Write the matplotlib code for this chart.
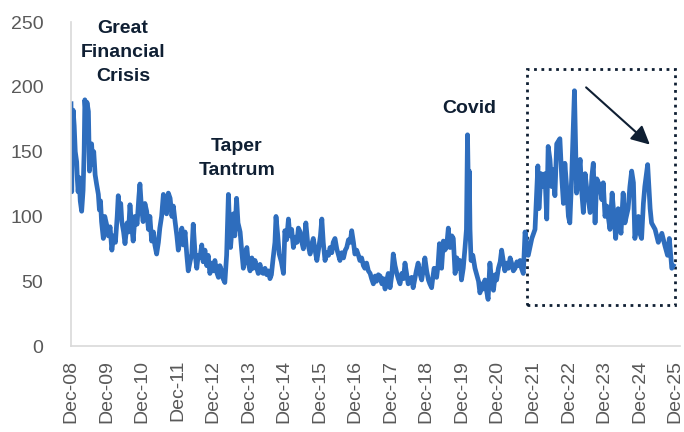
import matplotlib
matplotlib.use('Agg')
import matplotlib.pyplot as plt
from matplotlib.patches import Rectangle

plt.rcParams['font.family'] = ['Liberation Sans', 'DejaVu Sans']

# readings (decimal year, index level)
yrs = [2008.92, 2008.93, 2008.94, 2008.96, 2008.98, 2009.01, 2009.04, 2009.08, 2009.10, 2009.12,
       2009.15, 2009.18, 2009.22, 2009.26, 2009.29, 2009.31, 2009.34, 2009.37, 2009.41, 2009.44,
       2009.47, 2009.50, 2009.53, 2009.56, 2009.60, 2009.64, 2009.69, 2009.72, 2009.75, 2009.78,
       2009.83, 2009.87, 2009.92, 2009.97, 2010.02, 2010.07, 2010.12, 2010.17, 2010.22, 2010.25,
       2010.28, 2010.32, 2010.35, 2010.40, 2010.44, 2010.50, 2010.54, 2010.58, 2010.62, 2010.67,
       2010.72, 2010.78, 2010.83, 2010.86, 2010.90, 2010.95, 2011.00, 2011.05, 2011.10, 2011.14,
       2011.19, 2011.24, 2011.28, 2011.33, 2011.38, 2011.42, 2011.47, 2011.52, 2011.56, 2011.61,
       2011.66, 2011.71, 2011.76, 2011.80, 2011.85, 2011.90, 2011.94, 2011.99, 2012.04, 2012.08,
       2012.13, 2012.18, 2012.22, 2012.27, 2012.32, 2012.36, 2012.41, 2012.46, 2012.50, 2012.55,
       2012.60, 2012.64, 2012.69, 2012.74, 2012.78, 2012.83, 2012.88, 2012.92, 2012.97, 2013.02,
       2013.07, 2013.11, 2013.16, 2013.20, 2013.25, 2013.30, 2013.35, 2013.38, 2013.41, 2013.45,
       2013.49, 2013.53, 2013.58, 2013.62, 2013.68, 2013.72, 2013.77, 2013.82, 2013.87, 2013.91,
       2013.96, 2014.01, 2014.05, 2014.10, 2014.15, 2014.19, 2014.24, 2014.28, 2014.33, 2014.38,
       2014.43, 2014.48, 2014.52, 2014.56, 2014.61, 2014.66, 2014.69, 2014.74, 2014.78, 2014.84,
       2014.90, 2014.94, 2014.99, 2015.04, 2015.08, 2015.13, 2015.18, 2015.23, 2015.28, 2015.32,
       2015.37, 2015.41, 2015.46, 2015.50, 2015.53, 2015.58, 2015.65, 2015.69, 2015.74, 2015.79,
       2015.84, 2015.89, 2015.94, 2015.98, 2016.02, 2016.07, 2016.12, 2016.17, 2016.21, 2016.26,
       2016.30, 2016.35, 2016.40, 2016.45, 2016.49, 2016.54, 2016.59, 2016.64, 2016.68, 2016.73,
       2016.78, 2016.82, 2016.87, 2016.91, 2016.96, 2017.01, 2017.05, 2017.10, 2017.15, 2017.19,
       2017.24, 2017.29, 2017.34, 2017.38, 2017.43, 2017.48, 2017.52, 2017.57, 2017.62, 2017.67,
       2017.71, 2017.76, 2017.80, 2017.85, 2017.90, 2017.95, 2017.99, 2018.04, 2018.09, 2018.13,
       2018.18, 2018.23, 2018.28, 2018.32, 2018.37, 2018.41, 2018.46, 2018.51, 2018.55, 2018.60,
       2018.64, 2018.69, 2018.74, 2018.79, 2018.83, 2018.88, 2018.93, 2018.98, 2019.02, 2019.07,
       2019.10, 2019.14, 2019.18, 2019.21, 2019.25, 2019.29, 2019.32, 2019.35, 2019.40, 2019.44,
       2019.49, 2019.54, 2019.57, 2019.59, 2019.64, 2019.68, 2019.73, 2019.78, 2019.82, 2019.87,
       2019.91, 2019.96, 2020.01, 2020.05, 2020.08, 2020.11, 2020.13, 2020.15, 2020.18, 2020.23,
       2020.29, 2020.34, 2020.39, 2020.43, 2020.48, 2020.52, 2020.57, 2020.62, 2020.66, 2020.71,
       2020.76, 2020.81, 2020.86, 2020.90, 2020.95, 2021.00, 2021.04, 2021.09, 2021.13, 2021.18,
       2021.23, 2021.28, 2021.33, 2021.37, 2021.42, 2021.47, 2021.51, 2021.56, 2021.60, 2021.65,
       2021.70, 2021.79, 2021.89, 2021.98, 2022.06, 2022.09, 2022.15, 2022.21, 2022.26, 2022.31,
       2022.35, 2022.40, 2022.45, 2022.49, 2022.54, 2022.59, 2022.68, 2022.73, 2022.78, 2022.82,
       2022.87, 2022.92, 2022.96, 2023.01, 2023.09, 2023.12, 2023.15, 2023.25, 2023.29, 2023.34,
       2023.39, 2023.43, 2023.53, 2023.58, 2023.62, 2023.67, 2023.72, 2023.81, 2023.86, 2023.90,
       2023.95, 2024.00, 2024.09, 2024.15, 2024.21, 2024.25, 2024.32, 2024.40, 2024.46, 2024.51,
       2024.60, 2024.65, 2024.70, 2024.75, 2024.79, 2024.89, 2024.93, 2024.98, 2025.03, 2025.07,
       2025.15, 2025.22, 2025.26, 2025.36, 2025.45, 2025.55, 2025.64, 2025.71, 2025.76, 2025.83,
       2025.87]
move = [187, 150, 119, 160, 182, 170, 150, 142, 128, 119,
        130, 112, 104, 120, 150, 190, 178, 188, 181, 135,
        150, 156, 140, 150, 132, 125, 117, 105, 112, 96,
        83, 100, 94, 85, 92, 74, 85, 80, 100, 116,
        105, 110, 96, 88, 79, 95, 88, 109, 95, 81,
        100, 94, 115, 125, 108, 96, 110, 104, 90, 100,
        81, 88, 78, 71, 80, 91, 100, 117, 105, 102,
        118, 114, 100, 108, 96, 85, 74, 82, 91, 78,
        88, 70, 58, 65, 71, 94, 72, 60, 70, 68,
        78, 65, 74, 62, 70, 56, 64, 58, 66, 57,
        53, 62, 58, 52, 49, 70, 117, 95, 76, 90,
        102, 85, 114, 95, 88, 75, 60, 70, 76, 64,
        58, 68, 60, 66, 60, 56, 63, 57, 56, 60,
        55, 58, 52, 55, 68, 80, 100, 85, 71, 65,
        56, 89, 82, 98, 85, 90, 76, 84, 80, 91,
        88, 81, 75, 85, 95, 80, 71, 78, 83, 74,
        66, 75, 85, 98, 80, 66, 72, 70, 76, 72,
        80, 83, 75, 70, 66, 72, 68, 74, 76, 82,
        80, 89, 80, 71, 74, 70, 66, 68, 62, 60,
        64, 58, 56, 52, 48, 54, 50, 55, 54, 48,
        52, 44, 50, 56, 45, 55, 71, 62, 56, 52,
        48, 56, 52, 64, 55, 48, 52, 53, 45, 52,
        58, 64, 56, 51, 58, 68, 58, 51, 48, 45,
        52, 60, 55, 53, 62, 79, 68, 60, 81, 74,
        76, 91, 80, 76, 85, 83, 56, 68, 60, 66,
        51, 60, 76, 90, 163, 110, 135, 90, 66, 70,
        60, 55, 50, 41, 48, 44, 51, 42, 36, 64,
        50, 43, 55, 51, 60, 65, 74, 65, 58, 64,
        60, 68, 63, 58, 60, 65, 62, 66, 60, 56,
        88, 70, 83, 90, 139, 106, 133, 123, 133, 98,
        154, 144, 123, 136, 116, 156, 160, 131, 110, 141,
        123, 100, 95, 129, 197, 156, 118, 144, 121, 103,
        133, 123, 103, 131, 141, 95, 129, 123, 113, 126,
        100, 108, 90, 118, 98, 83, 106, 87, 118, 95,
        106, 123, 135, 126, 83, 100, 87, 83, 110, 123,
        140, 106, 95, 90, 80, 87, 77, 70, 83, 60,
        62]

tick_yrs = list(range(2008, 2026))
tick_labels = ['Dec-%02d' % (y % 100) for y in tick_yrs]
y_ticks = [0, 50, 100, 150, 200, 250]

navy = '#0f1f33'
blue = '#2e6dbd'

fig = plt.figure(figsize=(6.84, 4.32), dpi=100)
ax = fig.add_axes([0.1038, 0.199, 0.8898, 0.75])

ax.plot(yrs, move, color=blue, lw=3.4, solid_joinstyle='round')

ax.set_xlim(2008.92, 2026.05)
ax.set_ylim(0, 250)
ax.set_xticks([y + 0.92 for y in tick_yrs])
ax.set_xticklabels(tick_labels, rotation=90)
ax.set_yticks(y_ticks)
ax.tick_params(axis='both', length=0, colors='#595959', labelsize=14)
ax.tick_params(axis='x', pad=10)
ax.tick_params(axis='y', pad=20)
for s in ['top', 'right']:
    ax.spines[s].set_visible(False)
for s in ['left', 'bottom']:
    ax.spines[s].set_color('#d9d9d9')
    ax.spines[s].set_linewidth(1.2)

# annotations
ax.text(2010.38, 226.5, 'Great\nFinancial\nCrisis', ha='center', va='center',
        fontsize=14, fontweight='bold', color=navy, linespacing=1.55)
ax.text(2013.59, 145, 'Taper\nTantrum', ha='center', va='center',
        fontsize=14, fontweight='bold', color=navy, linespacing=1.55)
ax.text(2020.12, 183, 'Covid', ha='center', va='center',
        fontsize=14, fontweight='bold', color=navy)

ax.add_patch(Rectangle((2021.75, 32), 2025.92 - 2021.75, 214 - 32, fill=False,
                       ec=navy, lw=2, ls=':', clip_on=False))
ax.annotate('', xy=(2025.27, 154), xytext=(2023.36, 201),
            arrowprops=dict(arrowstyle='-|>', color=navy, lw=1.5, mutation_scale=28))

fig.savefig('out.png', dpi=100)
